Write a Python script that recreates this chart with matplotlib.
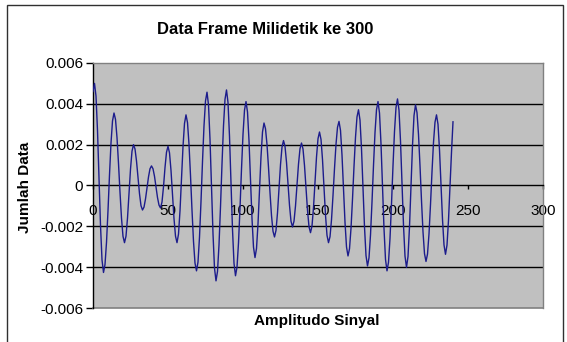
import matplotlib
matplotlib.use("Agg")
import matplotlib.pyplot as plt
from matplotlib.patches import Rectangle
from matplotlib.ticker import FuncFormatter

plt.rcParams['axes.unicode_minus'] = False
plt.rcParams['font.family'] = ['Liberation Sans', 'DejaVu Sans']

title = "Data Frame Milidetik ke 300"
x_label = "Amplitudo Sinyal"
y_label = "Jumlah Data"

# signal amplitude samples, index 0..240
signal = [
    0.00460, 0.00500, 0.00438, 0.00269, 0.00037, -0.00195, -0.00364, -0.00426,
    -0.00387, -0.00279, -0.00123, 0.00052, 0.00208, 0.00316, 0.00355,
    0.00324, 0.00235, 0.00108, -0.00033, -0.00160, -0.00249, -0.00280,
    -0.00248, -0.00160, -0.00040, 0.00080, 0.00168, 0.00200,
    0.00179, 0.00120, 0.00040, -0.00040, -0.00099, -0.00120,
    -0.00106, -0.00066, -0.00012, 0.00042, 0.00082, 0.00096,
    0.00082, 0.00045, -0.00007, -0.00059, -0.00096, -0.00110,
    -0.00081, -0.00006, 0.00088, 0.00163, 0.00192,
    0.00160, 0.00074, -0.00044, -0.00162, -0.00248, -0.00280,
    -0.00238, -0.00124, 0.00033, 0.00190, 0.00304, 0.00346,
    0.00308, 0.00202, 0.00049, -0.00121, -0.00274, -0.00380, -0.00418,
    -0.00375, -0.00253, -0.00078, 0.00117, 0.00292, 0.00414, 0.00457,
    0.00395, 0.00226, -0.00005, -0.00236, -0.00405, -0.00467,
    -0.00421, -0.00291, -0.00104, 0.00105, 0.00292, 0.00422, 0.00468,
    0.00407, 0.00241, 0.00013, -0.00215, -0.00381, -0.00442,
    -0.00400, -0.00281, -0.00111, 0.00080, 0.00250, 0.00369, 0.00411,
    0.00360, 0.00220, 0.00029, -0.00162, -0.00302, -0.00353,
    -0.00309, -0.00188, -0.00024, 0.00141, 0.00262, 0.00306,
    0.00278, 0.00201, 0.00089, -0.00035, -0.00147, -0.00224, -0.00252,
    -0.00220, -0.00134, -0.00016, 0.00102, 0.00188, 0.00220,
    0.00192, 0.00114, 0.00009, -0.00097, -0.00175, -0.00203,
    -0.00175, -0.00100, 0.00003, 0.00105, 0.00180, 0.00208,
    0.00179, 0.00098, -0.00012, -0.00121, -0.00202, -0.00231,
    -0.00198, -0.00108, 0.00016, 0.00139, 0.00229, 0.00262,
    0.00226, 0.00127, -0.00009, -0.00145, -0.00244, -0.00280,
    -0.00251, -0.00168, -0.00049, 0.00083, 0.00202, 0.00285, 0.00314,
    0.00270, 0.00149, -0.00016, -0.00180, -0.00301, -0.00345,
    -0.00310, -0.00210, -0.00067, 0.00093, 0.00236, 0.00336, 0.00371,
    0.00320, 0.00180, -0.00012, -0.00203, -0.00343, -0.00394,
    -0.00354, -0.00242, -0.00081, 0.00098, 0.00259, 0.00371, 0.00411,
    0.00355, 0.00204, -0.00004, -0.00211, -0.00362, -0.00418,
    -0.00376, -0.00259, -0.00091, 0.00097, 0.00265, 0.00382, 0.00424,
    0.00369, 0.00218, 0.00012, -0.00195, -0.00346, -0.00401,
    -0.00348, -0.00202, -0.00003, 0.00196, 0.00342, 0.00395,
    0.00357, 0.00250, 0.00097, -0.00074, -0.00227, -0.00334, -0.00372,
    -0.00336, -0.00237, -0.00093, 0.00067, 0.00211, 0.00310, 0.00346,
    0.00300, 0.00175, 0.00005, -0.00166, -0.00291, -0.00337,
    -0.00292, -0.00170, -0.00004, 0.00163, 0.00312,
]
x_ticks = [0, 50, 100, 150, 200, 250, 300]
y_ticks = [-0.006, -0.004, -0.002, 0, 0.002, 0.004, 0.006]

W, H = 567, 342
fig = plt.figure(figsize=(W / 100, H / 100), dpi=100)
fig.patch.set_facecolor('white')

# chart area border
fig.patches.append(Rectangle((7 / W, -0.05), (563 - 7) / W, 1 - 5 / H + 0.05,
                             transform=fig.transFigure, fill=False,
                             edgecolor='#303030', linewidth=1.0))

left, right, top, bottom = 93, 543, 63, 308
ax = fig.add_axes([left / W, 1 - bottom / H, (right - left) / W, (bottom - top) / H])
ax.set_facecolor('#C0C0C0')

ax.plot(range(len(signal)), signal, color='#1C1C8C', linewidth=1.0, zorder=3)

ax.set_xlim(x_ticks[0], x_ticks[-1])
ax.set_ylim(y_ticks[0], y_ticks[-1])

for v in y_ticks:
    if y_ticks[0] < v < y_ticks[-1] and v != 0:
        ax.axhline(v, color='black', linewidth=1.0, zorder=1)

# plot area border (gray) and axis spines
for s in ['top', 'right']:
    ax.spines[s].set_color('#808080')
    ax.spines[s].set_linewidth(1.0)
ax.spines['left'].set_color('black')
ax.spines['left'].set_linewidth(1.0)
ax.spines['bottom'].set_position(('data', 0))
ax.spines['bottom'].set_color('black')
ax.spines['bottom'].set_linewidth(1.0)
ax.plot([0, 1], [0, 0], transform=ax.transAxes, color='#808080', linewidth=1.2,
        clip_on=False, zorder=2)

ax.set_xticks(x_ticks)
ax.set_yticks(y_ticks)
ax.yaxis.set_major_formatter(FuncFormatter(lambda v, p: '0' if abs(v) < 1e-12 else f'{v:.3f}'))
ax.xaxis.set_major_formatter(FuncFormatter(lambda v, p: f'{int(round(v))}'))
ax.tick_params(axis='x', direction='out', length=3, width=1, color='black',
               labelsize=11, pad=10, labelcolor='black')
ax.tick_params(axis='y', direction='out', length=5, width=1, color='black',
               labelsize=11, pad=2, labelcolor='black')

fig.text(265 / W, 1 - 30 / H, title, ha='center', va='center', fontsize=12,
         fontweight='bold', family=['Liberation Sans Narrow', 'Liberation Sans'])
fig.text(317 / W, 1 - 321 / H, x_label, ha='center', va='center', fontsize=11,
         fontweight='bold', family=['Liberation Sans Narrow', 'Liberation Sans'])
fig.text(25 / W, 1 - 187 / H, y_label, ha='center', va='center', fontsize=11,
         fontweight='bold', rotation=90,
         family=['Liberation Sans Narrow', 'Liberation Sans'])

fig.savefig('out.png', dpi=100, facecolor='white')
